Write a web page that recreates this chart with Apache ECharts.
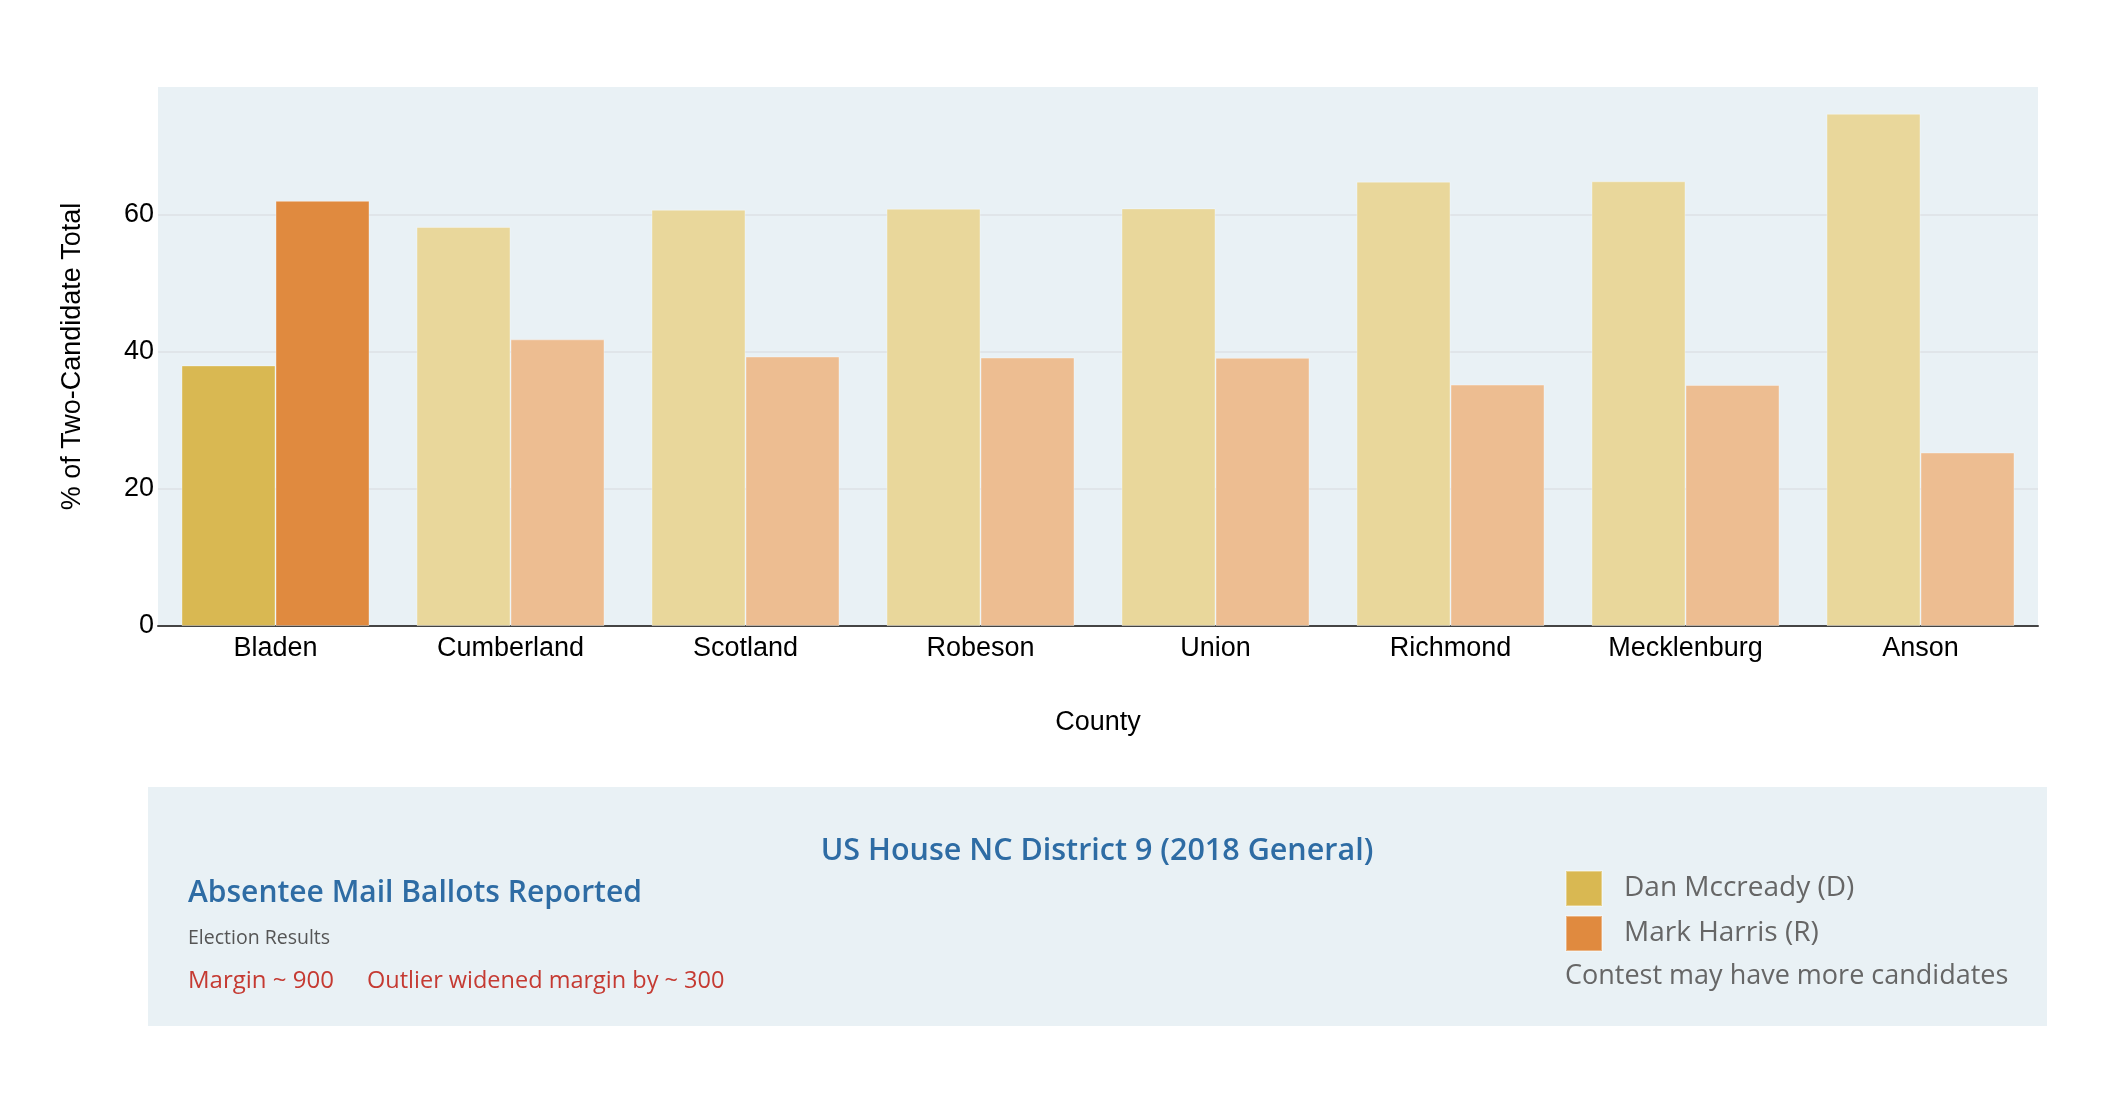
<!DOCTYPE html>
<html>
<head>
<meta charset="utf-8">
<script src="https://cdn.jsdelivr.net/npm/echarts@6/dist/echarts.min.js"></script>
<style>
  html, body { margin: 0; padding: 0; background: #fff; }
  #chart { width: 2116px; height: 1102px; }
</style>
</head>
<body>
<div id="chart"></div>
<script>
// counties on the x axis
const counties = ['Bladen', 'Cumberland', 'Scotland', 'Robeson', 'Union', 'Richmond', 'Mecklenburg', 'Anson']
// % of two-candidate total
const mccready = [38.0, 58.2, 60.7, 60.85, 60.9, 64.8, 64.85, 74.7]
const harris = [62.0, 41.8, 39.3, 39.15, 39.1, 35.2, 35.15, 25.3]
// the outlier county is drawn in full colour, the rest faded
const highlighted = ['Bladen']
const yTicks = [0, 20, 40, 60]

const colD = '#D9B852', colDFaded = '#E9D79B'
const colR = '#E08A3F', colRFaded = '#EDBD91'
const panelBg = '#E9F1F5'
const sans = '"Liberation Sans", Arial, Helvetica, sans-serif'
const panelFont = '"Open Sans", Lato, sans-serif'

function barData(values, strong, faded) {
  return values.map(function (v, i) {
    return {
      value: v,
      itemStyle: { color: highlighted.indexOf(counties[i]) >= 0 ? strong : faded }
    }
  })
}

let chart = echarts.init(document.getElementById('chart'))
let option = {
  animation: false,
  backgroundColor: '#fff',
  grid: { left: 158, top: 87, width: 1880, height: 539, show: true, backgroundColor: panelBg, borderWidth: 0 },
  legend: {
    orient: 'vertical',
    left: 1565,
    top: 870,
    padding: 0,
    itemWidth: 36,
    itemHeight: 35,
    itemGap: 8,
    icon: 'rect',
    selectedMode: false,
    textStyle: { fontFamily: panelFont, fontSize: 28, color: '#666', padding: [9, 0, 0, 17] },
    data: ['Dan Mccready (D)', 'Mark Harris (R)']
  },
  xAxis: {
    type: 'category',
    data: counties,
    name: 'County',
    nameLocation: 'middle',
    nameGap: 83,
    nameTextStyle: { fontFamily: sans, fontSize: 27, color: '#000' },
    axisLine: { lineStyle: { color: '#444', width: 2 } },
    axisTick: { show: false },
    axisLabel: { fontFamily: sans, fontSize: 27, color: '#000', margin: 9 }
  },
  yAxis: {
    type: 'value',
    min: 0,
    max: 78.6,
    interval: 20,
    name: '% of Two-Candidate Total',
    nameLocation: 'middle',
    nameGap: 72,
    nameTextStyle: { fontFamily: sans, fontSize: 27, color: '#000' },
    axisLine: { show: false },
    axisTick: { show: false },
    splitLine: { showMaxLine: false, lineStyle: { color: '#DCE1E5', width: 1.5 } },
    axisLabel: {
      fontFamily: sans, fontSize: 27, color: '#000', margin: 4,
      showMaxLabel: false,
      formatter: function (v) { return yTicks.indexOf(v) >= 0 ? String(v) : '' }
    }
  },
  series: [
    {
      name: 'Dan Mccready (D)',
      type: 'bar',
      barGap: '0%',
      barCategoryGap: '20%',
      itemStyle: { color: colD, borderColor: 'rgba(255,255,255,0.35)', borderWidth: 1 },
      data: barData(mccready, colD, colDFaded)
    },
    {
      name: 'Mark Harris (R)',
      type: 'bar',
      barGap: '0%',
      barCategoryGap: '20%',
      itemStyle: { color: colR, borderColor: 'rgba(255,255,255,0.35)', borderWidth: 1 },
      data: barData(harris, colR, colRFaded)
    }
  ],
  graphic: [
    { type: 'rect', z: -1, shape: { x: 148, y: 787, width: 1899, height: 239 }, style: { fill: panelBg } },
    { type: 'text', x: 1097, y: 851, style: { text: 'US House NC District 9 (2018 General)', fill: '#2E6CA4', font: '600 30.5px ' + panelFont, align: 'center', verticalAlign: 'middle' } },
    { type: 'text', x: 188, y: 893, style: { text: 'Absentee Mail Ballots Reported', fill: '#2E6CA4', font: '600 30px ' + panelFont, verticalAlign: 'middle' } },
    { type: 'text', x: 188, y: 938, style: { text: 'Election Results', fill: '#555', font: '19.5px ' + panelFont, verticalAlign: 'middle' } },
    { type: 'text', x: 188, y: 981, style: { text: 'Margin ~ 900', fill: '#C53A32', font: '24px ' + panelFont, verticalAlign: 'middle' } },
    { type: 'text', x: 367, y: 981, style: { text: 'Outlier widened margin by ~ 300', fill: '#C53A32', font: '23.5px ' + panelFont, verticalAlign: 'middle' } },
    { type: 'text', x: 1565, y: 976, style: { text: 'Contest may have more candidates', fill: '#666', font: '27px ' + panelFont, verticalAlign: 'middle' } }
  ]
}
chart.setOption(option)
</script>
</body>
</html>
